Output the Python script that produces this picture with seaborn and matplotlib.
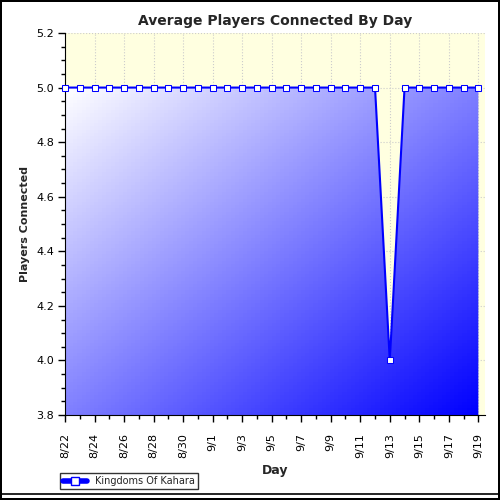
import numpy as np
import matplotlib
matplotlib.use("Agg")
import matplotlib.pyplot as plt
import seaborn as sns
from matplotlib.path import Path
from matplotlib.patches import PathPatch
from matplotlib.lines import Line2D

sns.set_style("white", {"xtick.bottom": True, "ytick.left": True})
plt.rcParams['font.family'] = ['DejaVu Sans']

days = ["8/22","8/23","8/24","8/25","8/26","8/27","8/28","8/29","8/30","8/31",
        "9/1","9/2","9/3","9/4","9/5","9/6","9/7","9/8","9/9","9/10",
        "9/11","9/12","9/13","9/14","9/15","9/16","9/17","9/18","9/19"]
players = [5,5,5,5,5,5,5,5,5,5,5,5,5,5,5,5,5,5,5,5,5,5,4,5,5,5,5,5,5]

fig = plt.figure(figsize=(5,5), dpi=100)
fig.patch.set_edgecolor('black'); fig.patch.set_linewidth(1.5)
ax = fig.add_axes([0.13, 0.17, 0.84, 0.764])
ax.set_facecolor('#ffffe0')
n = len(days)
x = np.arange(n)
xmax = n - 1 + 0.45
ax.set_xlim(0, xmax)
ax.set_ylim(3.8, 5.2)

grad = np.zeros((100,100,3))
u = np.linspace(0,1,100)
tt = (u[None,:] + u[:,None]) / 2
grad[...,0] = 1 - tt
grad[...,1] = 1 - tt
grad[...,2] = 1
im = ax.imshow(grad, extent=[0, n-1, 3.8, 5.0], aspect='auto', origin='upper', zorder=1)
verts = [(0,3.8)] + list(zip(x, players)) + [(n-1,3.8), (0,3.8)]
clip = PathPatch(Path(verts), transform=ax.transData, facecolor='none', edgecolor='none')
ax.add_patch(clip)
im.set_clip_path(clip)
ax.set_xlim(0, xmax)
ax.set_ylim(3.8, 5.2)

sns.lineplot(x=x, y=players, ax=ax, color='blue', lw=1.5, marker='s', markersize=4.5,
             markerfacecolor='white', markeredgecolor='blue', zorder=3, clip_on=False)

ax.grid(True, color='#cccccc', linestyle=':', lw=0.8)
ax.set_axisbelow(True)
ax.set_xticks(x[::2])
ax.set_xticklabels(days[::2], rotation=90, fontsize=8)
ax.set_xticks(x, minor=True)
ax.set_yticks(np.arange(3.8, 5.21, 0.2))
ax.set_yticks(np.arange(3.8, 5.21, 0.05), minor=True)
ax.set_yticklabels([f"{v:.1f}" for v in np.arange(3.8, 5.21, 0.2)], fontsize=8)
ax.tick_params(axis='both', which='major', direction='out', length=5, width=1, color='black',
               left=True, bottom=True, labelcolor='black', pad=8)
ax.tick_params(axis='both', which='minor', direction='out', length=3, width=1, color='black',
               left=True, bottom=True)
ax.tick_params(axis='y', which='major', pad=3)
for s in ['top','right']:
    ax.spines[s].set_visible(False)
for s in ['left','bottom']:
    ax.spines[s].set_color('black')
ax.set_title("Average Players Connected By Day", fontsize=10, fontweight='bold')
ax.set_xlabel("Day", fontsize=9, fontweight='bold')
ax.set_ylabel("Players Connected", fontsize=8, fontweight='bold')

h = Line2D([], [], color='blue', lw=4, marker='s', markersize=6, markerfacecolor='white', markeredgecolor='blue')
leg = fig.legend([h], ["Kingdoms Of Kahara"], loc='lower left', bbox_to_anchor=(0.11, 0.012),
                 fontsize=7, frameon=True, fancybox=False, edgecolor='black', borderpad=0.3, handlelength=2.5)
leg.get_frame().set_linewidth(1)
fig.add_artist(Line2D([0,1],[0.012,0.012], color='black', lw=1.2))
fig.savefig("out.png", dpi=100, edgecolor=fig.get_edgecolor())
